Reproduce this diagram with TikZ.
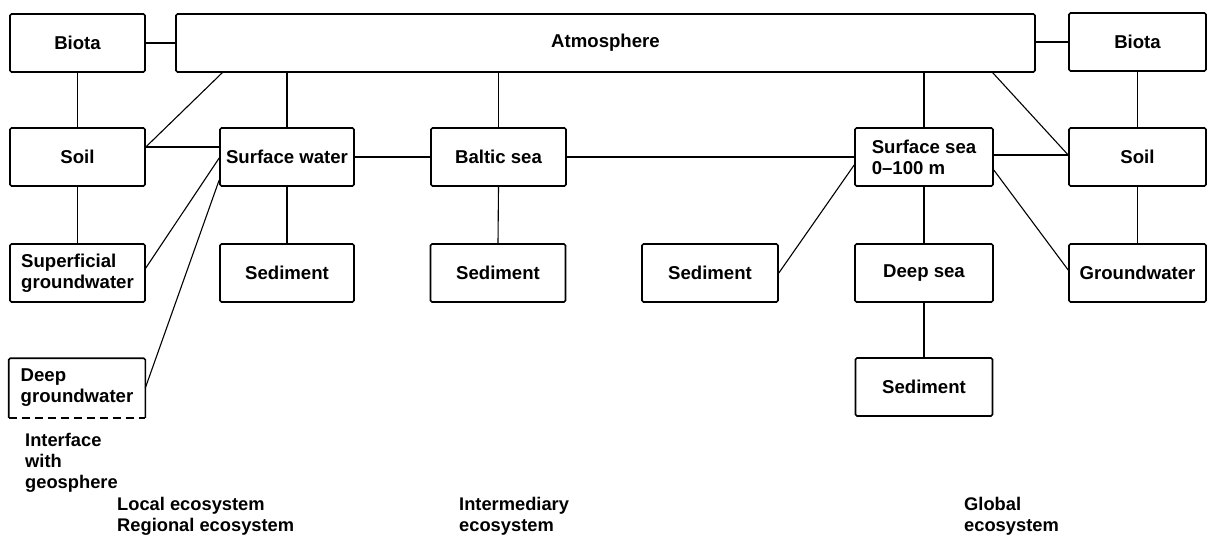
\documentclass[tikz,border=0pt]{standalone}
\usepackage{fontspec}
\setmainfont{Liberation Sans}
\begin{document}
\begin{tikzpicture}[x=1pt,y=-1pt,
  box/.style={draw, line width=1.6pt, rounded corners=1.5pt, minimum width=135pt,
    minimum height=58pt, inner sep=0pt, align=center,
    font=\bfseries\fontsize{18.6}{21}\selectfont},
  openbox/.style={box, draw=none},
  link/.style={line width=1.1pt},
  edgeline/.style={line width=1.6pt},
  lbl/.style={align=left, anchor=north west, inner sep=0pt,
    font=\bfseries\fontsize{18.3}{21}\selectfont}]
\useasboundingbox (0,0) rectangle (1208,536);

% top row
\node[box] (bioL) at (77.5,43) {Biota};
\node[box, minimum width=859pt] (atm) at (605.5,43) {Atmosphere};
\node[box, minimum width=137pt] (bioR) at (1137.5,42) {Biota};

% second row
\node[box] (soilL) at (77.5,157) {Soil};
\node[box, minimum width=134pt] (sw) at (287,157) {Surface water};
\node[box] (baltic) at (498.5,157) {Baltic sea};
\node[box, minimum width=138pt, align=left] (ssea) at (924,157) {Surface sea\\0--100 m};
\node[box, minimum width=137pt] (soilR) at (1137.5,157) {Soil};

% third row
\node[box, align=left] (supgw) at (77.5,273) {Superficial\\groundwater};
\node[box, minimum width=134pt] (sedSW) at (287,273) {Sediment};
\node[box] (sedB) at (498,273) {Sediment};
\node[box, minimum width=136pt] (sedG) at (710,273) {Sediment};
\node[box, minimum width=138pt] (deep) at (924,273) {Deep sea};
\node[box, minimum width=137pt] (gw) at (1137.5,273) {Groundwater};

% fourth row
\node[openbox, align=left] (deepgw) at (77,388) {Deep\\groundwater};
\draw[edgeline, rounded corners=1.5pt] (deepgw.south west) -- (deepgw.north west)
  -- (deepgw.north east) -- (deepgw.south east);
\draw[edgeline, dash pattern=on 8pt off 5pt] (deepgw.south west) -- (deepgw.south east);
\node[box, minimum width=137pt] (sedD) at (924,387) {Sediment};

% connectors
\draw[link] (bioL.east) -- (atm.west);
\draw[link] (atm.east |- bioR.west) -- (bioR.west);
\draw[link] (bioL.south) -- (soilL.north);
\draw[link] (soilL.south) -- (supgw.north);
\draw[link] (bioR.south) -- (soilR.north);
\draw[link] (soilR.south) -- (gw.north);

\draw[link] ([yshift=10pt]soilL.east) -- ([yshift=10pt]soilL.east -| sw.west);
\draw[link] ([xshift=47pt]atm.south west) -- ([yshift=10pt]soilL.east);
\draw[link] (sw.north |- atm.south) -- (sw.north);
\draw[link] (baltic.north |- atm.south) -- (baltic.north);
\draw[link] (ssea.north |- atm.south) -- (ssea.north);
\draw[link] ([xshift=-43pt]atm.south east) -- ([yshift=2pt]soilR.west);

\draw[link] (sw.east) -- (baltic.west);
\draw[link] (baltic.east) -- (ssea.west);
\draw[link] ([yshift=2pt]ssea.east) -- ([yshift=2pt]soilR.west);

\draw[link] (sw.south) -- (sedSW.north);
\draw[link] (baltic.south) -- (sedB.north);
\draw[link] (ssea.south) -- (deep.north);
\draw[link] (deep.south) -- (sedD.north);

\draw[link] ([yshift=-1pt]sw.west) -- ([yshift=5pt]supgw.east);
\draw[link] ([yshift=-23pt]sw.west) -- (deepgw.east);
\draw[link] (sedG.east) -- ([yshift=-8pt]ssea.west);
\draw[link] ([yshift=-13pt]ssea.east) -- ([yshift=3pt]gw.west);

% labels
\node[lbl] (iface) at (25,433) {Interface\\with\\geosphere};
\node[lbl] (local) at (117,497) {Local ecosystem\\Regional ecosystem};
\node[lbl] (inter) at (459,497) {Intermediary\\ecosystem};
\node[lbl] (global) at (964,497) {Global\\ecosystem};
\end{tikzpicture}
\end{document}
